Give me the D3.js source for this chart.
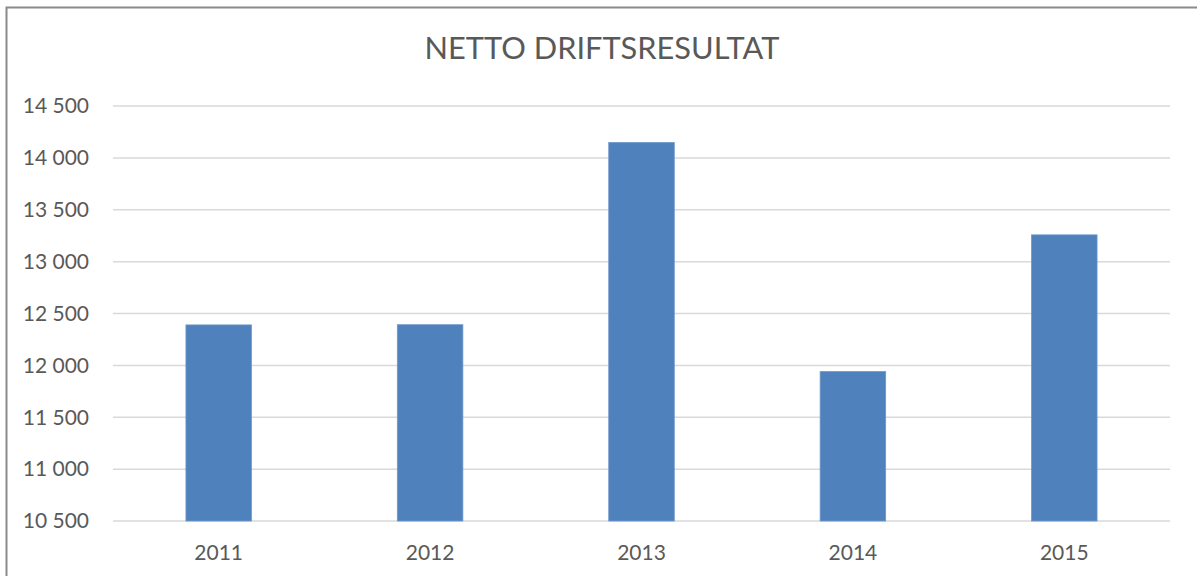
<!DOCTYPE html>
<html>
<head>
<meta charset="UTF-8">
<script src="https://d3js.org/d3.v7.min.js"></script>
<style>
  body { margin: 0; background: #fff; }
  text { font-family: Lato, "Open Sans", sans-serif; fill: #595959; }
</style>
</head>
<body>
<svg id="canvas"></svg>
<script>

// data
const years = ["2011", "2012", "2013", "2014", "2015"];
const values = [12390, 12392, 14148, 11940, 13258];
const yTicks = [10500, 11000, 11500, 12000, 12500, 13000, 13500, 14000, 14500];
const title = "NETTO DRIFTSRESULTAT";

const width = 1197, height = 576;
const margin = {left: 113, right: 27, top: 106, bottom: 55};

const svg = d3.select("#canvas")
    .attr("width", width)
    .attr("height", height);

// chart frame (only top and left edges are visible in the crop)
svg.append("path")
    .attr("d", "M6.5," + height + "V7.5H" + width)
    .attr("fill", "none")
    .attr("stroke", "#8a8a8a")
    .attr("stroke-width", 2);

const x = d3.scaleBand()
    .domain(years)
    .range([margin.left, width - margin.right])
    .paddingInner(0.69)
    .paddingOuter(0.345);

const y = d3.scaleLinear()
    .domain([10500, 14500])
    .range([height - margin.bottom, margin.top]);

// gridlines
svg.append("g")
  .selectAll("line")
  .data(yTicks)
  .join("line")
    .attr("x1", margin.left)
    .attr("x2", width - margin.right)
    .attr("y1", d => y(d))
    .attr("y2", d => y(d))
    .attr("stroke", "#d9d9d9")
    .attr("stroke-width", 1.5);

// bars
svg.append("g")
  .selectAll("rect")
  .data(values)
  .join("rect")
    .attr("x", (d, i) => x(years[i]))
    .attr("width", x.bandwidth())
    .attr("y", d => y(d))
    .attr("height", d => y(10500) - y(d))
    .attr("fill", "#4f81bd")
    .attr("stroke", "#6f97c9")
    .attr("stroke-width", 0.8);

// y axis labels
const fmt = d => d3.format(",")(d).replace(",", " ");
svg.append("g")
  .selectAll("text")
  .data(yTicks)
  .join("text")
    .attr("x", 89)
    .attr("y", d => y(d))
    .attr("dy", "0.35em")
    .attr("text-anchor", "end")
    .style("font-size", "21px")
    .text(fmt);

// x axis labels
svg.append("g")
  .selectAll("text")
  .data(years)
  .join("text")
    .attr("x", d => x(d) + x.bandwidth() / 2)
    .attr("y", 560)
    .attr("text-anchor", "middle")
    .style("font-size", "21px")
    .text(d => d);

// title, sized to the reference width
const t = svg.append("text")
    .attr("x", 602)
    .attr("y", 59)
    .attr("text-anchor", "middle")
    .style("font-size", "28px")
    .text(title);
const w = t.node().getComputedTextLength();
t.style("font-size", (28 * 355 / w) + "px");

</script>
</body>
</html>
